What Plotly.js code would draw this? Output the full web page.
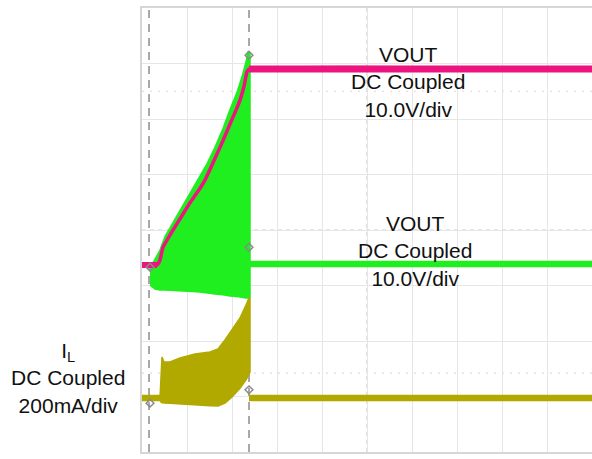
<!DOCTYPE html>
<html>
<head>
<meta charset="utf-8">
<script src="https://cdn.plot.ly/plotly-3.0.1.min.js"></script>
<style>
  html, body { margin: 0; padding: 0; background: #ffffff; }
  #scope { width: 592px; height: 459px; }
</style>
</head>
<body>
<div id="scope"></div>
<script>
// Screen units: time in horizontal divisions (0..10), level in vertical divisions (0..8).

// Channel 1 – VOUT (magenta)
const vout1Time  = [0, 0.333, 0.4, 0.467, 0.622, 0.844, 1.067, 1.222, 1.4, 1.578, 1.778, 1.956, 2.089, 2.178, 2.267, 2.333, 2.378, 10];
const vout1Level = [3.37, 3.37, 3.46, 3.69, 3.91, 4.20, 4.49, 4.67, 4.90, 5.21, 5.57, 5.91, 6.16, 6.34, 6.59, 6.85, 6.90, 6.90];

// Channel 2 – VOUT (green): switching envelope during start-up, then settled level
const vout2EnvTime  = [0.178, 0.289, 0.4, 0.511, 0.667, 0.889, 1.111, 1.289, 1.444, 1.622, 1.8, 1.956, 2.111, 2.222, 2.311, 2.356, 2.4];
const vout2EnvUpper = [3.33, 3.47, 3.64, 3.88, 4.10, 4.41, 4.70, 4.95, 5.19, 5.49, 5.83, 6.17, 6.48, 6.76, 7.03, 7.22, 7.17];
const vout2EnvLower = [3.009, 2.937, 2.919, 2.919, 2.919, 2.905, 2.890, 2.883, 2.870, 2.847, 2.835, 2.811, 2.800, 2.790, 2.775, 2.775, 2.793];
const vout2SettledTime  = [2.378, 10];
const vout2SettledLevel = [3.387, 3.387];

// Channel 3 – inductor current IL (olive)
const ilPreTime  = [0, 0.4];
const ilPreLevel = [0.973, 0.973];
const ilEnvTime  = [0.4, 0.422, 0.444, 0.489, 0.622, 0.844, 1.178, 1.511, 1.689, 1.844, 2.0, 2.178, 2.311, 2.378, 2.4];
const ilEnvUpper = [0.973, 1.477, 1.712, 1.622, 1.622, 1.694, 1.766, 1.802, 1.856, 2.018, 2.198, 2.414, 2.649, 2.775, 2.775];
const ilEnvLower = [0.937, 0.900, 0.885, 0.883, 0.880, 0.865, 0.847, 0.835, 0.829, 0.880, 0.990, 1.150, 1.300, 1.400, 1.441];
const ilPostTime  = [2.378, 10];
const ilPostLevel = [0.973, 0.973];

// Cursor positions and cursor/reference glyphs
const cursorTimes  = [0.156, 2.378];
const glyphTime    = [0.178, 2.378, 2.378, 0.178, 2.378];
const glyphLevel   = [3.33, 7.15, 3.69, 0.88, 1.12];

// Channel labels
const labelText = [
  'VOUT<br>DC Coupled<br>10.0V/div',
  'VOUT<br>DC Coupled<br>10.0V/div',
  'I<sub>L</sub><br>DC Coupled<br>200mA/div'
];
const labelTime  = [5.911, 6.067, -1.644];
const labelLevel = [6.67, 3.62, 1.33];

const MAGENTA = '#ee1480';
const GREEN   = '#1fee1f';
const OLIVE   = '#b1a900';

function envelope(t, up, lo) {
  return {
    x: t.concat(t.slice().reverse()),
    y: up.concat(lo.slice().reverse())
  };
}

const g = envelope(vout2EnvTime, vout2EnvUpper, vout2EnvLower);
const il = envelope(ilEnvTime, ilEnvUpper, ilEnvLower);
const n1 = vout1Time.length;

const traces = [
  { x: g.x, y: g.y, type: 'scatter', mode: 'lines', fill: 'toself',
    fillcolor: GREEN, line: { color: GREEN, width: 1.5 }, hoverinfo: 'skip' },
  { x: vout2SettledTime, y: vout2SettledLevel, type: 'scatter', mode: 'lines',
    line: { color: GREEN, width: 6.5 }, hoverinfo: 'skip' },
  { x: il.x, y: il.y, type: 'scatter', mode: 'lines', fill: 'toself',
    fillcolor: OLIVE, line: { color: OLIVE, width: 1.5 }, hoverinfo: 'skip' },
  { x: ilPreTime, y: ilPreLevel, type: 'scatter', mode: 'lines',
    line: { color: OLIVE, width: 6.5 }, hoverinfo: 'skip' },
  { x: ilPostTime, y: ilPostLevel, type: 'scatter', mode: 'lines',
    line: { color: OLIVE, width: 6.5 }, hoverinfo: 'skip' },
  // ramp drawn thinner, flat levels drawn as the wider noisy band
  { x: vout1Time, y: vout1Level, type: 'scatter', mode: 'lines',
    line: { color: MAGENTA, width: 3.5, shape: 'spline', smoothing: 0.4 }, hoverinfo: 'skip' },
  { x: vout1Time.slice(0, 2), y: vout1Level.slice(0, 2), type: 'scatter', mode: 'lines',
    line: { color: MAGENTA, width: 6 }, hoverinfo: 'skip' },
  { x: vout1Time.slice(n1 - 2), y: vout1Level.slice(n1 - 2), type: 'scatter', mode: 'lines',
    line: { color: MAGENTA, width: 7 }, hoverinfo: 'skip' },
  { x: glyphTime, y: glyphLevel, type: 'scatter', mode: 'markers',
    marker: { symbol: 'diamond-open', size: 6, color: '#8a8a8a', line: { width: 1.5, color: '#8a8a8a' } },
    hoverinfo: 'skip' }
];

const shapes = [];
cursorTimes.forEach(function (t) {
  shapes.push({ type: 'line', xref: 'x', yref: 'paper', x0: t, x1: t, y0: 0, y1: 1,
    line: { color: '#8c8c8c', width: 1.5, dash: '8px,6px' }, layer: 'below' });
});
// darker dashed centre lines of the graticule
shapes.push({ type: 'line', xref: 'x', yref: 'paper', x0: 5, x1: 5, y0: 0, y1: 1,
  line: { color: '#cccccc', width: 1.2, dash: '4px,4px' }, layer: 'below' });
shapes.push({ type: 'line', xref: 'paper', yref: 'y', x0: 0, x1: 1, y0: 4, y1: 4,
  line: { color: '#cccccc', width: 1.2, dash: '4px,4px' }, layer: 'below' });
// faint dotted level markers
[6.5, 1.42].forEach(function (lv) {
  shapes.push({ type: 'line', xref: 'paper', yref: 'y', x0: 0, x1: 1, y0: lv, y1: lv,
    line: { color: '#dcdcdc', width: 1.2, dash: '2px,6px' }, layer: 'below' });
});

// labels placed in paper coordinates so the IL label can sit left of the graticule
const annotations = labelText.map(function (txt, i) {
  return { text: txt, x: labelTime[i] / 10, y: labelLevel[i] / 8, xref: 'paper', yref: 'paper',
    showarrow: false, xanchor: 'center', yanchor: 'middle', align: 'center',
    font: { family: 'Liberation Sans, Arial, sans-serif', size: 21, color: '#111111' } };
});

const layout = {
  width: 592, height: 459,
  margin: { l: 142, r: 0, t: 8, b: 7, pad: 0 },
  paper_bgcolor: '#ffffff', plot_bgcolor: '#ffffff',
  showlegend: false,
  xaxis: { range: [0, 10], dtick: 1, tick0: 0, showticklabels: false, ticks: '',
    showgrid: true, gridcolor: '#e6e6e6', gridwidth: 1, zeroline: false,
    showline: true, linecolor: '#d6d6d6', linewidth: 2, mirror: true, fixedrange: true },
  yaxis: { range: [0, 8], dtick: 1, tick0: 0, showticklabels: false, ticks: '',
    showgrid: true, gridcolor: '#e6e6e6', gridwidth: 1, zeroline: false,
    showline: true, linecolor: '#d6d6d6', linewidth: 2, mirror: true, fixedrange: true },
  shapes: shapes,
  annotations: annotations
};

Plotly.newPlot('scope', traces, layout, { staticPlot: true, displayModeBar: false });
</script>
</body>
</html>
